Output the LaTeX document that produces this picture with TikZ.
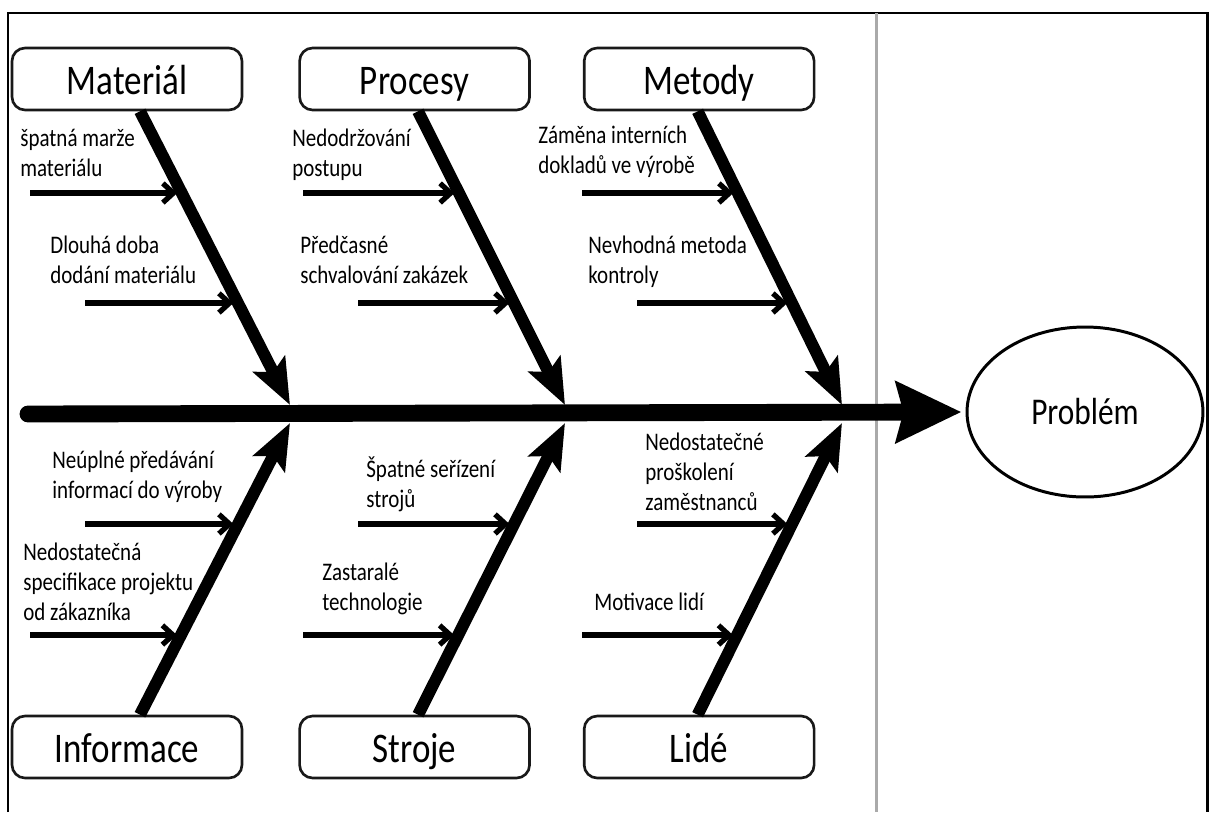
\documentclass[tikz,border=0pt]{standalone}
\usepackage{fontspec}
\setmainfont{Carlito}[FakeStretch=0.83]
\usepackage{tikz}
\usetikzlibrary{positioning, arrows.meta, shapes.geometric}
\definecolor{fbgray}{RGB}{170, 170, 170}
\definecolor{fbblack}{RGB}{25, 25, 25}
\tikzset{
    catbox/.style={rectangle, draw=fbblack, line width=1.5pt, rounded corners=0.26cm, minimum width=4.6cm, minimum height=1.24cm, text height=20pt, text depth=2pt, font=\fontsize{24}{28}\selectfont},
    causetext/.style={anchor=base west, align=left, inner sep=0pt, font=\fontsize{14.4}{17}\selectfont},
    rib/.style={line width=6.8pt, -{Stealth[length=26pt, width=20pt, inset=5pt]}},
    spine/.style={line width=9.6pt, line cap=round, shorten >=0.08cm, -{Stealth[length=37pt, width=34pt, inset=4pt]}},
    causearrow/.style={line width=3pt, shorten >=0.1cm, -{Straight Barb[length=6pt, width=11pt]}},
    problem/.style={ellipse, draw, line width=1.7pt, minimum width=4.72cm, minimum height=3.4cm, font=\fontsize{21.5}{24}\selectfont}
}

\begin{document}
\begin{tikzpicture}[x=0.02cm, y=-0.02cm]
    \useasboundingbox (0,0) rectangle (1210,812);
    \draw[line width=1.7pt] (8,812) -- (8,13) -- (1207,13) -- (1207,812);
    \draw[fbgray, line width=1.7pt] (876,13) -- (876,812);

    % categories
    \node[catbox] (mat) at (127,79) {Materiál};
    \node[catbox, right=1.1cm of mat] (pro) {Procesy};
    \node[catbox, right=1.04cm of pro] (met) {Metody};
    \node[catbox] (inf) at (127,747) {Informace};
    \node[catbox, right=1.1cm of inf] (str) {Stroje};
    \node[catbox, right=1.04cm of str] (lid) {Lidé};

    \node[problem] (prob) at (1085,412) {Problém};

    % spine
    \coordinate (tail) at (28,414);
    \draw[spine] (tail) -- (prob.west);

    % ribs
    \coordinate (tmat) at (290,405);
    \coordinate (tpro) at (565,405);
    \coordinate (tmet) at (842,405);
    \coordinate (tinf) at (290,423);
    \coordinate (tstr) at (565,423);
    \coordinate (tlid) at (842,423);
    \draw[rib] ([xshift=0.26cm]mat.south) -- coordinate[pos=0.282] (rmat1) coordinate[pos=0.656] (rmat2) (tmat);
    \draw[rib] ([xshift=0.07cm]pro.south) -- coordinate[pos=0.282] (rpro1) coordinate[pos=0.656] (rpro2) (tpro);
    \draw[rib] ([xshift=-0.03cm]met.south) -- coordinate[pos=0.282] (rmet1) coordinate[pos=0.656] (rmet2) (tmet);
    \draw[rib] ([xshift=0.26cm]inf.north) -- coordinate[pos=0.656] (rinf1) coordinate[pos=0.279] (rinf2) (tinf);
    \draw[rib] ([xshift=0.07cm]str.north) -- coordinate[pos=0.656] (rstr1) coordinate[pos=0.279] (rstr2) (tstr);
    \draw[rib] ([xshift=-0.03cm]lid.north) -- coordinate[pos=0.656] (rlid1) coordinate[pos=0.279] (rlid2) (tlid);

    % causes
    \coordinate (cmat1) at (30,193);
    \coordinate (cmat2) at (85,303);
    \coordinate (cpro1) at (303,193);
    \coordinate (cpro2) at (358,303);
    \coordinate (cmet1) at (582,193);
    \coordinate (cmet2) at (637,303);
    \coordinate (cinf1) at (85,524);
    \coordinate (cinf2) at (30,635);
    \coordinate (cstr1) at (358,524);
    \coordinate (cstr2) at (303,635);
    \coordinate (clid1) at (637,524);
    \coordinate (clid2) at (582,635);
    \foreach \c in {mat1, mat2, pro1, pro2, met1, met2, inf1, inf2, str1, str2, lid1, lid2}
        \draw[causearrow] (c\c) -- (c\c -| r\c);

    \node[causetext] (lmat1) at (20,176) {špatná marže\\materiálu};
    \node[causetext] (lmat2) at (50,283) {Dlouhá doba\\dodání materiálu};
    \node[causetext] (lpro1) at (292,176) {Nedodržování\\postupu};
    \node[causetext] (lpro2) at (300,283) {Předčasné\\schvalování zakázek};
    \node[causetext] (lmet1) at (538,173) {Záměna interních\\dokladů ve výrobě};
    \node[causetext] (lmet2) at (588,283) {Nevhodná metoda\\kontroly};
    \node[causetext] (linf1) at (52,498) {Neúplné předávání\\informací do výroby};
    \node[causetext] (linf2) at (23,620) {Nedostatečná\\specifikace projektu\\od zákazníka};
    \node[causetext] (lstr1) at (366,507) {Špatné seřízení\\strojů};
    \node[causetext] (lstr2) at (322,610) {Zastaralé\\technologie};
    \node[causetext] (llid1) at (645,510) {Nedostatečné\\proškolení\\zaměstnanců};
    \node[causetext] (llid2) at (594,610) {Motivace lidí};
\end{tikzpicture}
\end{document}
